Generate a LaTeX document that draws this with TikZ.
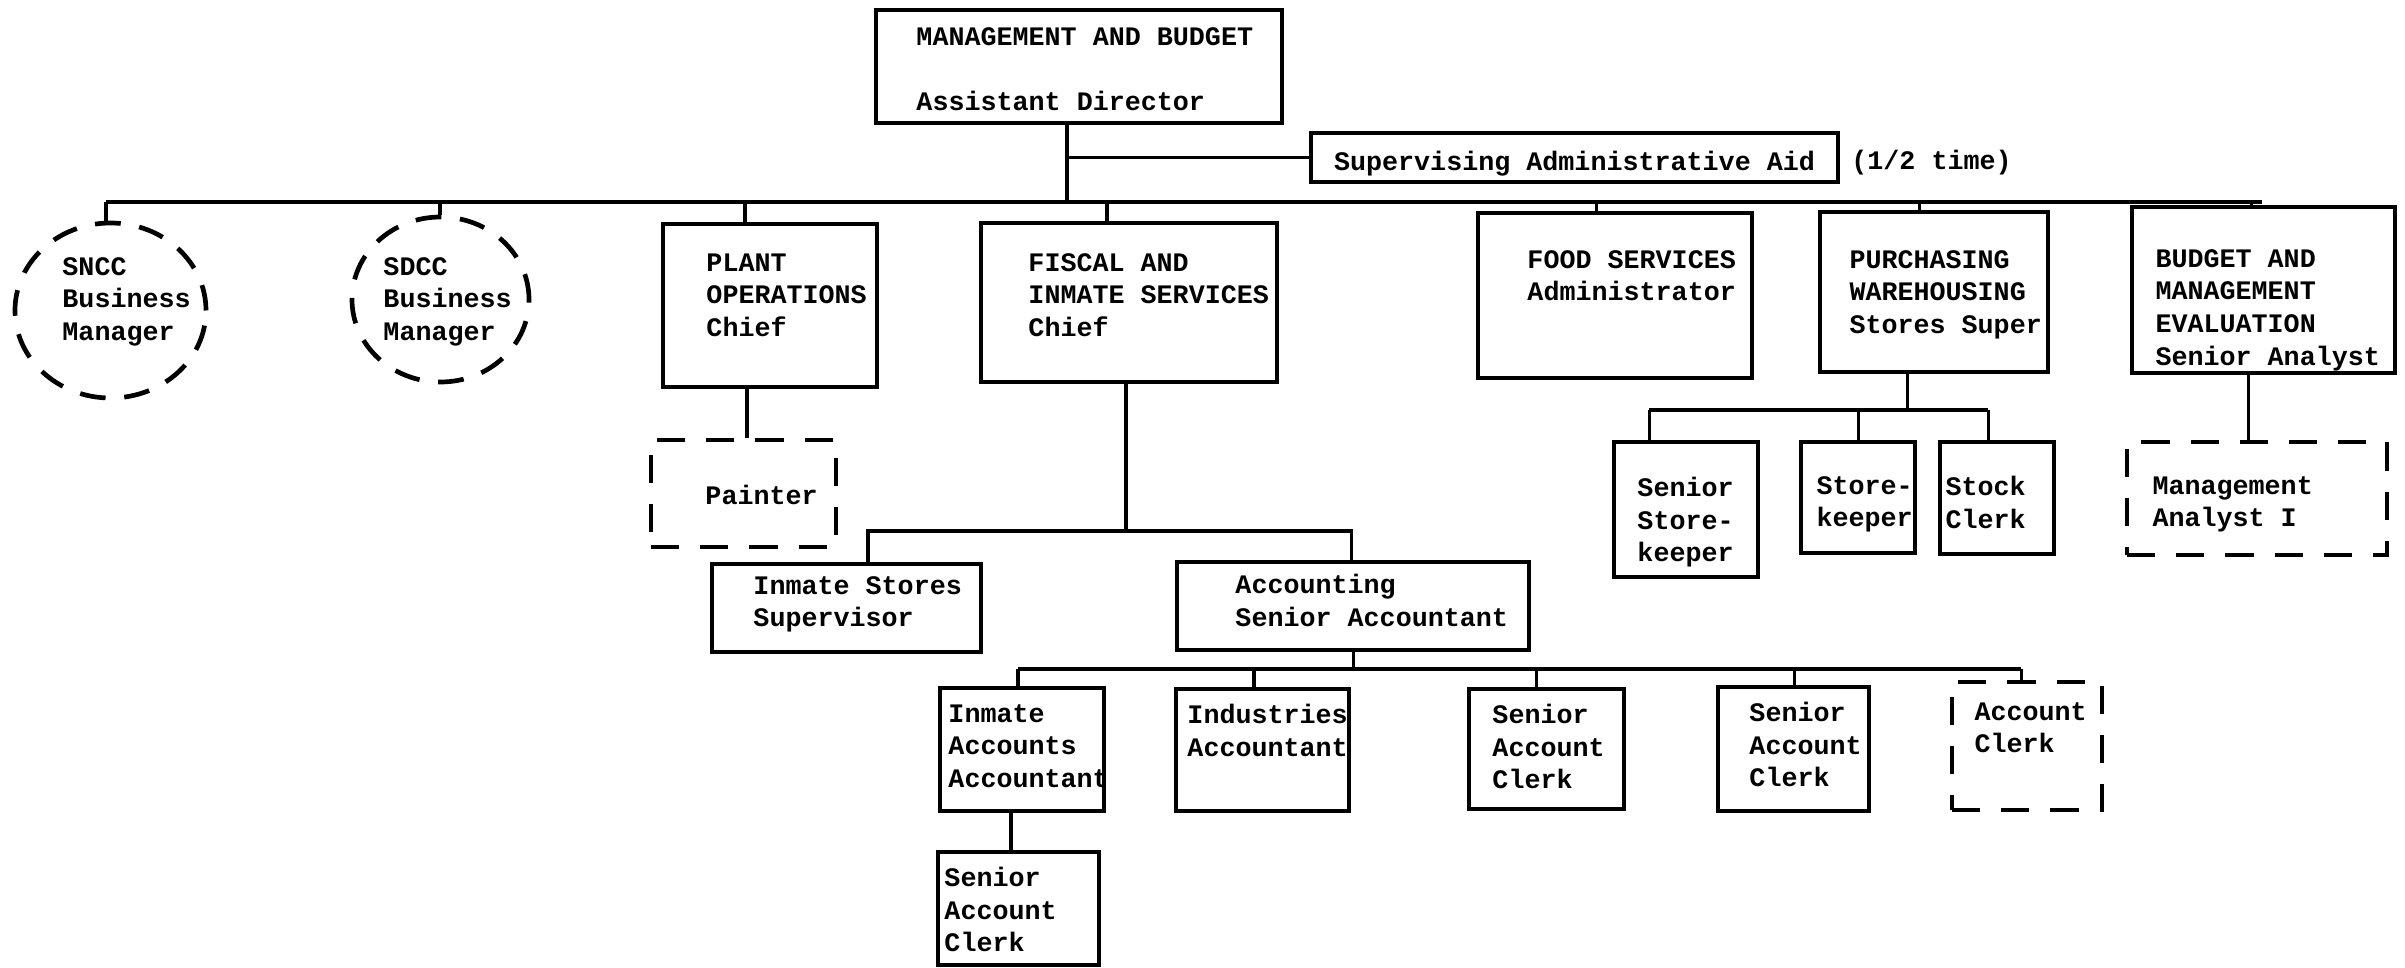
\documentclass[tikz,border=0pt]{standalone}
\usepackage{fontspec}
\setmonofont{Liberation Mono}
\usetikzlibrary{shapes.geometric, positioning}

\newlength\pxu
\setlength\pxu{0.015cm}
\newcommand\typer{\ttfamily\bfseries\fontsize{11.4}{13.9}\selectfont}

\begin{document}
\begin{tikzpicture}[x=\pxu, y=-\pxu,
    post/.style={draw, rectangle, line width=1.6pt, inner sep=0pt},
    temp/.style={post, line width=2pt, dash pattern=on 12pt off 9pt},
    oval/.style={draw, ellipse, line width=2pt, dash pattern=on 11pt off 8pt, inner sep=0pt},
    dims/.style 2 args={minimum width=#1\pxu, minimum height=#2\pxu},
    wire/.style={line width=1.3pt},
    txt/.style={font=\typer, align=left, anchor=north west, inner sep=0pt,
      execute at begin node=\strut}]

  \useasboundingbox (0,0) rectangle (2405,968);

  % head of the division
  \node[post, dims={406}{113}] (mgmt) at (1079,66.5) {};
  \node[txt] (mgmt-t) at (916,27) {MANAGEMENT AND BUDGET\\[13.9pt]Assistant Director};
  \node[post, dims={527}{49}, font=\typer, text height=12pt, text depth=1.3pt] (aid) at (1574.5,157.5) {Supervising Administrative Aid};
  \node[font=\typer, inner sep=0pt, right=11\pxu of aid, yshift=-2.3pt] (aid-n) {(1/2 time)};

  % first row
  \node[oval, dims={191}{175}] (sncc) at (110.5,310.5) {};
  \node[oval, dims={177}{165}] (sdcc) at (440.5,299.5) {};
  \node[post, dims={214}{163}] (plant) at (770,305.5) {};
  \node[post, dims={296}{159}] (fiscal) at (1129,302.5) {};
  \node[post, dims={274}{165}] (food) at (1615,295.5) {};
  \node[post, dims={228}{160}] (purch) at (1934,292) {};
  \node[post, dims={263}{166}] (budget) at (2263.5,290) {};

  \node[txt] (sncc-t) at (62,257) {SNCC\\Business\\Manager};
  \node[txt] (sdcc-t) at (383,257) {SDCC\\Business\\Manager};
  \node[txt] (plant-t) at (706,253) {PLANT\\OPERATIONS\\Chief};
  \node[txt] (fiscal-t) at (1028,253) {FISCAL AND\\INMATE SERVICES\\Chief};
  \node[txt] (food-t) at (1527,250) {FOOD SERVICES\\Administrator};
  \node[txt] (purch-t) at (1849,250) {PURCHASING\\WAREHOUSING\\Stores Super};
  \node[txt] (budget-t) at (2155,249) {BUDGET AND\\MANAGEMENT\\EVALUATION\\Senior Analyst};

  % second row
  \node[temp, dims={185}{107}] (painter) at (743.5,493.5) {};
  \node[post, dims={144}{135}] (senstore) at (1686,509.5) {};
  \node[post, dims={114}{111}] (storek) at (1858,497.5) {};
  \node[post, dims={114}{112}] (stock) at (1997,498) {};
  \node[temp, dims={260}{113}] (analyst) at (2257,498.5) {};
  \node[post, dims={269}{88}] (inmstores) at (846.5,608) {};
  \node[post, dims={352}{88}] (acct) at (1353,606) {};

  \node[txt] (painter-t) at (705,481) {Painter};
  \node[txt] (senstore-t) at (1637,477) {Senior\\Store-\\keeper};
  \node[txt] (storek-t) at (1816,476) {Store-\\keeper};
  \node[txt] (stock-t) at (1945,476) {Stock\\Clerk};
  \node[txt] (analyst-t) at (2152,476) {Management\\Analyst I};
  \node[txt] (inmstores-t) at (753,576) {Inmate Stores\\Supervisor};
  \node[txt] (acct-t) at (1235,574) {Accounting\\Senior Accountant};

  % accounting staff
  \node[post, dims={164}{123}] (inmacct) at (1022,749.5) {};
  \node[post, dims={173}{122}] (indus) at (1262.5,750) {};
  \node[post, dims={155}{120}] (sac1) at (1546.5,749) {};
  \node[post, dims={151}{124}] (sac2) at (1793.5,749) {};
  \node[temp, dims={150}{128}] (aclerk) at (2027,746) {};
  \node[post, dims={161}{113}] (sac3) at (1018.5,908.5) {};

  \node[txt] (inmacct-t) at (948,704) {Inmate\\Accounts\\Accountant};
  \node[txt] (indus-t) at (1187,704) {Industries\\Accountant};
  \node[txt] (sac1-t) at (1492,704) {Senior\\Account\\Clerk};
  \node[txt] (sac2-t) at (1749,702) {Senior\\Account\\Clerk};
  \node[txt] (aclerk-t) at (1974,702) {Account\\Clerk};
  \node[txt] (sac3-t) at (944,867) {Senior\\Account\\Clerk};

  % lines
  \coordinate (trunk) at (1067,202);
  \coordinate (aid-j) at (1067,157.5);
  \draw[wire] (mgmt.south -| trunk) -- (trunk);
  \draw[wire] (aid-j) -- (aid.west);
  \coordinate (bar-l) at (106,202);
  \coordinate (bar-r) at (2262,202);
  \draw[wire] (bar-l) -- (bar-r);
  \foreach \n/\x in {sncc/106, sdcc/440, plant/745, fiscal/1107, food/1596, purch/1919, budget/2251} {
    \coordinate (bar-\n) at (\x,202);
    \draw[wire] (bar-\n) -- (bar-\n |- \n.north);
  }

  \coordinate (pl-j) at (747,400);
  \draw[wire] (plant.south -| pl-j) -- (painter.north -| pl-j);
  \coordinate (bu-j) at (2248,400);
  \draw[wire] (budget.south -| bu-j) -- (analyst.north -| bu-j);

  \coordinate (fis-j) at (1126,531);
  \coordinate (fis-l) at (868,531);
  \coordinate (fis-r) at (1351,531);
  \draw[wire] (fiscal.south -| fis-j) -- (fis-j);
  \draw[wire] (inmstores.north -| fis-l) -- (fis-l) -- (fis-r) -- (acct.north -| fis-r);

  \coordinate (pu-j) at (1907,410);
  \draw[wire] (purch.south -| pu-j) -- (pu-j);
  \draw[wire] (1649,410) -- (1988,410);
  \foreach \n/\x in {senstore/1649, storek/1858, stock/1988} {
    \coordinate (pu-\n) at (\x,410);
    \draw[wire] (pu-\n) -- (pu-\n |- \n.north);
  }

  \coordinate (acc-j) at (1353,669);
  \draw[wire] (acct.south -| acc-j) -- (acc-j);
  \draw[wire] (1018,669) -- (2021,669);
  \foreach \n/\x in {inmacct/1018, indus/1254, sac1/1536, sac2/1794, aclerk/2021} {
    \coordinate (acc-\n) at (\x,669);
    \draw[wire] (acc-\n) -- (acc-\n |- \n.north);
  }

  \coordinate (ia-j) at (1011,830);
  \draw[wire] (inmacct.south -| ia-j) -- (sac3.north -| ia-j);
\end{tikzpicture}
\end{document}
